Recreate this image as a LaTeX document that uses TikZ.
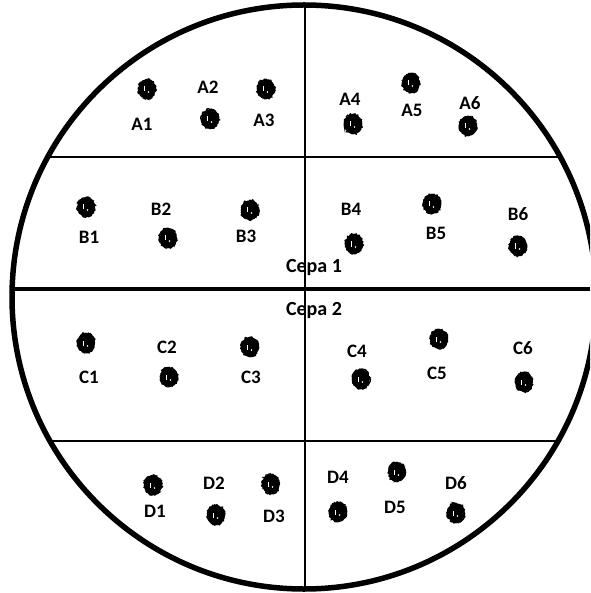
\documentclass[tikz,border=0pt]{standalone}
\usepackage{fontspec}
\setmainfont{Carlito}
\usetikzlibrary{shapes.geometric,decorations.pathmorphing}
\definecolor{plateink}{HTML}{000000}
\definecolor{platebg}{HTML}{FFFFFF}
\pgfmathsetseed{7}
\tikzset{
  colony/.style={ellipse,fill=plateink,inner sep=0pt,
                 minimum width=17pt,minimum height=19pt,
                 postaction={draw=plateink,line width=1.5pt,decorate,
                   decoration={random steps,segment length=1.2pt,amplitude=0.8pt}},
                 path picture={
                   \fill[platebg] ([xshift=-3.5pt,yshift=-2.5pt]path picture bounding box.center)
                     rectangle ++(1.3pt,5pt);
                   \fill[platebg] ([xshift=1.5pt,yshift=-3pt]path picture bounding box.center)
                     circle (0.8pt);}},
  well/.style={font=\bfseries\fontsize{19}{21}\selectfont,inner sep=0pt},
  strain/.style={font=\bfseries\fontsize{20}{22}\selectfont,inner sep=0pt},
  rim/.style={draw=plateink,line width=5.5pt},
  divider/.style={draw=plateink,line width=1.2pt},
  split/.style={draw=plateink,line width=4.5pt},
}

\begin{document}
\begin{tikzpicture}[x=1pt,y=-1pt]
  \useasboundingbox (0,0) rectangle (590,593);
  \clip (0,0) rectangle (590,593);
  \coordinate (centre) at (304,297);

  \begin{scope}
    \clip (centre) circle (292pt);
    \draw[divider] (305,0) -- (305,593);
    \draw[divider] (0,157) -- (590,157);
    \draw[divider] (0,441) -- (590,441);
    \draw[split] (0,289) -- (590,289);
  \end{scope}
  \draw[rim] (centre) circle (292pt);

  % row A
  \node[colony] (a1) at (147,89) {};  \node[well] (la1) at (142,124) {A1};
  \node[colony] (a2) at (210,119) {}; \node[well] (la2) at (208,87) {A2};
  \node[colony] (a3) at (266,89) {};  \node[well] (la3) at (264,120) {A3};
  \node[colony] (a4) at (353,124) {}; \node[well] (la4) at (350,99) {A4};
  \node[colony] (a5) at (411,83) {};  \node[well] (la5) at (412,110) {A5};
  \node[colony] (a6) at (468,126) {}; \node[well] (la6) at (470,103) {A6};

  % row B
  \node[colony] (b1) at (86,207) {};  \node[well] (lb1) at (89,237) {B1};
  \node[colony] (b2) at (168,238) {}; \node[well] (lb2) at (161,209) {B2};
  \node[colony] (b3) at (250,210) {}; \node[well] (lb3) at (246,236) {B3};
  \node[colony] (b4) at (354,244) {}; \node[well] (lb4) at (351,209) {B4};
  \node[colony] (b5) at (432,204) {}; \node[well] (lb5) at (436,233) {B5};
  \node[colony] (b6) at (518,246) {}; \node[well] (lb6) at (518,214) {B6};

  \node[strain] (cepa1) at (314,268) {Cepa 1};
  \node[strain] (cepa2) at (314,311) {Cepa 2};

  % row C
  \node[colony] (c1) at (86,343) {};  \node[well] (lc1) at (89,377) {C1};
  \node[colony] (c2) at (169,377) {}; \node[well] (lc2) at (167,347) {C2};
  \node[colony] (c3) at (250,347) {}; \node[well] (lc3) at (251,377) {C3};
  \node[colony] (c4) at (361,379) {}; \node[well] (lc4) at (357,351) {C4};
  \node[colony] (c5) at (439,339) {}; \node[well] (lc5) at (437,373) {C5};
  \node[colony] (c6) at (524,382) {}; \node[well] (lc6) at (523,348) {C6};

  % row D
  \node[colony] (d1) at (153,485) {}; \node[well] (ld1) at (155,511) {D1};
  \node[colony] (d2) at (216,515) {}; \node[well] (ld2) at (214,483) {D2};
  \node[colony] (d3) at (271,484) {}; \node[well] (ld3) at (274,516) {D3};
  \node[colony] (d4) at (338,512) {}; \node[well] (ld4) at (338,477) {D4};
  \node[colony] (d5) at (397,472) {}; \node[well] (ld5) at (395,507) {D5};
  \node[colony] (d6) at (456,513) {}; \node[well] (ld6) at (456,483) {D6};
\end{tikzpicture}
\end{document}
